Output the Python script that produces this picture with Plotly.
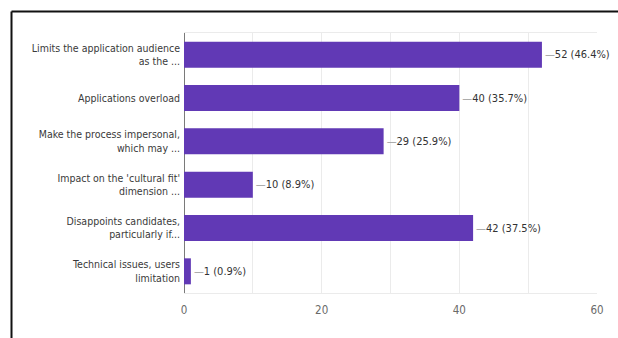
import plotly.graph_objects as go

# Survey responses (multiple choice, counts and share of respondents)
categories = [
    "Limits the application audience<br>as the ...",
    "Applications overload",
    "Make the process impersonal,<br>which may ...",
    "Impact on the 'cultural fit'<br>dimension ...",
    "Disappoints candidates,<br>particularly if...",
    "Technical issues, users<br>limitation",
]
counts = [52, 40, 29, 10, 42, 1]
percents = ["46.4%", "35.7%", "25.9%", "8.9%", "37.5%", "0.9%"]
x_ticks = [0, 20, 40, 60]

FONT = "DejaVu Sans Condensed, Roboto, sans-serif"
BAR_COLOR = "#6139b5"

labels = [
    f"<span style='color:#9a9a9a'>—</span>{c} ({p})" for c, p in zip(counts, percents)
]

fig = go.Figure(
    go.Bar(
        x=counts,
        y=categories,
        orientation="h",
        width=0.6,
        marker=dict(color=BAR_COLOR, line=dict(width=0)),
        text=labels,
        textposition="outside",
        textfont=dict(family=FONT, size=11, color="#333333"),
        constraintext="none",
        cliponaxis=False,
        hoverinfo="skip",
    )
)

W, H = 618, 338
L, R, T, B = 184, 21, 33, 45
pw, ph = W - L - R, H - T - B

# Outer frame along the top and left edges of the card
fx = (11.5 - L) / pw
fy = 1 + (T - 11.5) / ph
fig.add_shape(type="line", xref="paper", yref="paper",
              x0=fx, x1=(W - L) / pw + 0.01, y0=fy, y1=fy,
              line=dict(color="#111111", width=2))
fig.add_shape(type="line", xref="paper", yref="paper",
              x0=fx, x1=fx, y0=fy, y1=-(H - T - ph) / ph - 0.01,
              line=dict(color="#111111", width=2))

fig.update_layout(
    width=W,
    height=H,
    margin=dict(l=L, r=R, t=T, b=B, pad=0),
    paper_bgcolor="white",
    plot_bgcolor="white",
    showlegend=False,
    font=dict(family=FONT, size=11, color="#333333"),
    xaxis=dict(
        range=[0, 60],
        tickvals=x_ticks,
        ticktext=[str(v) for v in x_ticks],
        showgrid=True,
        gridcolor="#ebebeb",
        gridwidth=1,
        minor=dict(dtick=10, showgrid=True, gridcolor="#ebebeb", gridwidth=1),
        zeroline=True,
        zerolinecolor="#7a7a7a",
        zerolinewidth=1,
        showline=True,
        mirror=True,
        linecolor="#ebebeb",
        linewidth=1,
        ticks="",
        ticklabelstandoff=6,
        tickfont=dict(family=FONT, size=11.5, color="#6a6a6a"),
        fixedrange=True,
    ),
    yaxis=dict(
        autorange="reversed",
        showgrid=False,
        showline=False,
        ticks="",
        ticklabelstandoff=3,
        tickfont=dict(family=FONT, size=10.5, color="#3a3a3a"),
        fixedrange=True,
    ),
)

fig.write_html("out.html")
